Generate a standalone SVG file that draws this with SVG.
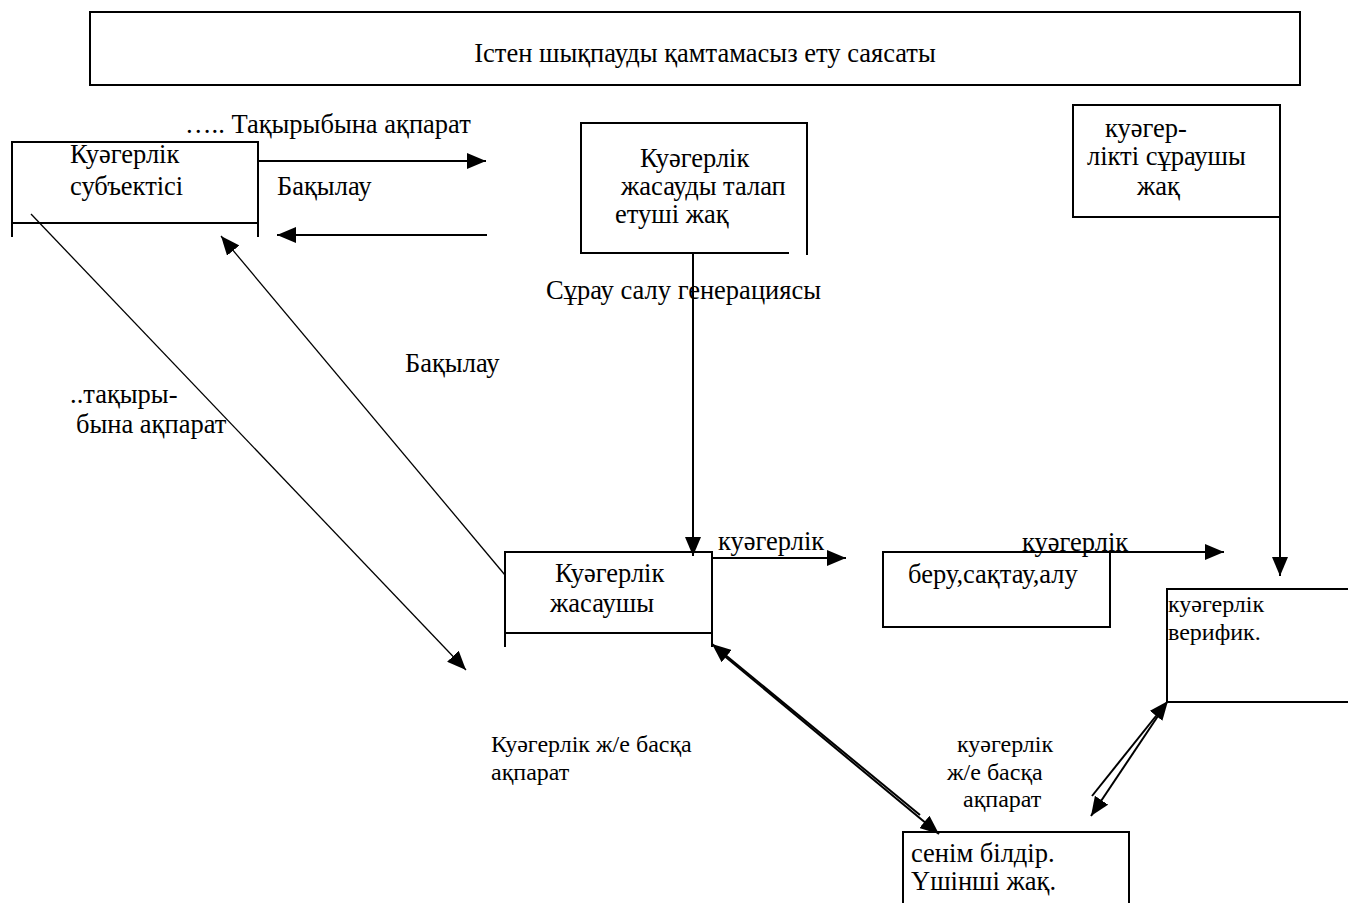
<svg xmlns="http://www.w3.org/2000/svg" width="1348" height="903" viewBox="0 0 1348 903">
<style>
  text { font-family: "Liberation Serif", "Times New Roman", serif; font-size: 26.5px; fill: #000; }
  .sm { font-size: 24px; }
  .box { fill: none; stroke: #000; stroke-width: 2; }
  .ln { fill: none; stroke: #000; stroke-width: 2; }
  .thin { fill: none; stroke: #000; stroke-width: 1.3; }
</style>
<defs>
  <marker id="ah" markerUnits="userSpaceOnUse" markerWidth="20" markerHeight="16" refX="19" refY="8" orient="auto">
    <path d="M0,0 L19,8 L0,16 Z" fill="#000"/>
  </marker>
</defs>
<rect width="1348" height="903" fill="#fff"/>

<g id="policy">
  <rect class="box" x="90" y="12" width="1210" height="73"/>
  <text x="705" y="62" text-anchor="middle">Істен шықпауды қамтамасыз ету саясаты</text>
</g>

<g id="subject">
  <path class="box" d="M12,237 L12,142 L258,142 L258,237 M12,223 L258,223"/>
  <text x="70" y="163">Куәгерлік</text>
  <text x="70" y="195">субъектісі</text>
</g>

<g id="requester">
  <path class="box" d="M807,255 L807,123 L581,123 L581,253 L789,253"/>
  <text x="640" y="167">Куәгерлік</text>
  <text x="621" y="195">жасауды талап</text>
  <text x="615" y="223">етуші жақ</text>
</g>

<g id="asker">
  <rect class="box" x="1073" y="105" width="207" height="112"/>
  <text x="1105" y="137">куәгер-</text>
  <text x="1087" y="165">лікті сұраушы</text>
  <text x="1137" y="195">жақ</text>
</g>

<g id="producer">
  <path class="box" d="M505,647 L505,552 L712,552 L712,647 M505,633 L712,633"/>
  <text x="555" y="582">Куәгерлік</text>
  <text x="550" y="612">жасаушы</text>
</g>

<g id="storage">
  <rect class="box" x="883" y="552" width="227" height="75"/>
  <text x="908" y="583">беру,сақтау,алу</text>
</g>

<g id="verifier">
  <path class="box" d="M1350,589 L1167,589 L1167,702 L1350,702"/>
  <text class="sm" x="1168" y="612">куәгерлік</text>
  <text class="sm" x="1168" y="640">верифик.</text>
</g>

<g id="trusted">
  <path class="box" d="M903,905 L903,832 L1129,832 L1129,905"/>
  <text x="911" y="862">сенім білдір.</text>
  <text x="911" y="890">Үшінші жақ.</text>
</g>

<g id="connectors">
  <line class="ln" x1="258" y1="161" x2="486" y2="161" marker-end="url(#ah)"/>
  <line class="ln" x1="487" y1="235" x2="277" y2="235" marker-end="url(#ah)"/>
  <line class="ln" x1="693" y1="253" x2="693" y2="556" marker-end="url(#ah)"/>
  <line class="ln" x1="712" y1="558" x2="846" y2="558" marker-end="url(#ah)"/>
  <line class="ln" x1="1110" y1="552" x2="1224" y2="552" marker-end="url(#ah)"/>
  <line class="ln" x1="1280" y1="217" x2="1280" y2="576" marker-end="url(#ah)"/>
  <line class="thin" x1="31" y1="214" x2="466" y2="670" marker-end="url(#ah)"/>
  <line class="thin" x1="505" y1="575" x2="221" y2="236" marker-end="url(#ah)"/>
  <line class="ln" x1="920" y1="815" x2="712" y2="644" marker-end="url(#ah)"/>
  <line class="ln" x1="716" y1="649" x2="939" y2="834" marker-end="url(#ah)"/>
  <line class="ln" x1="1092" y1="796" x2="1168" y2="701" marker-end="url(#ah)"/>
  <line class="ln" x1="1162" y1="710" x2="1091" y2="816" marker-end="url(#ah)"/>
</g>

<g id="labels">
  <text x="185" y="133">….. Тақырыбына ақпарат</text>
  <text x="277" y="195">Бақылау</text>
  <text x="546" y="299">Сұрау салу генерациясы</text>
  <text x="405" y="372">Бақылау</text>
  <text x="70" y="403">..тақыры-</text>
  <text x="76" y="433">бына ақпарат</text>
  <text x="718" y="550">куәгерлік</text>
  <text x="1022" y="551">куәгерлік</text>
  <text class="sm" x="491" y="752">Куәгерлік ж/е басқа</text>
  <text class="sm" x="491" y="780">ақпарат</text>
  <text class="sm" x="957" y="752">куәгерлік</text>
  <text class="sm" x="947" y="780">ж/е басқа</text>
  <text class="sm" x="963" y="807">ақпарат</text>
</g>
</svg>
